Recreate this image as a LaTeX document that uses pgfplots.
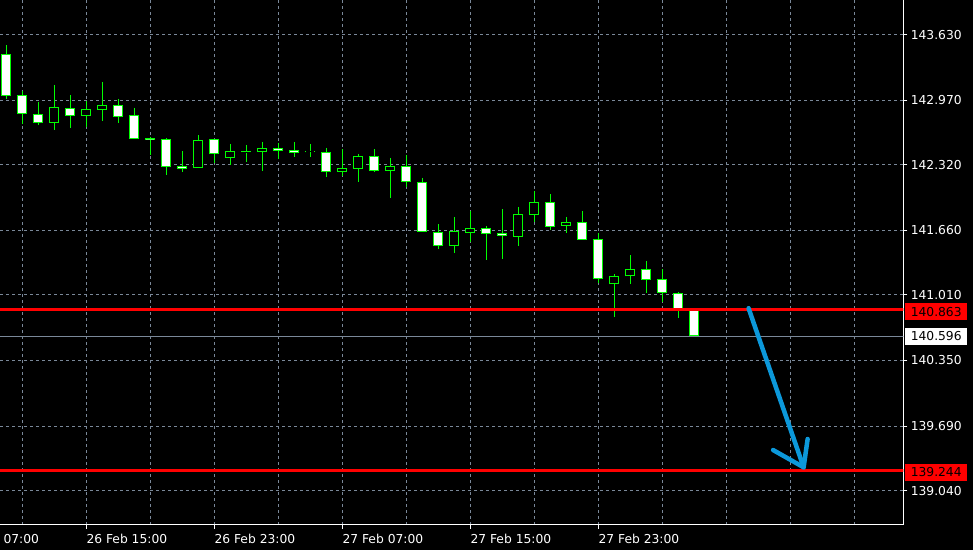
\documentclass[border=0pt]{standalone}
\usepackage{fontspec}
\setmainfont{DejaVu Sans}
\usepackage{pgfplots}
\pgfplotsset{compat=1.18}
\definecolor{gridc}{RGB}{122,136,153}
\definecolor{cg}{RGB}{0,255,0}
\definecolor{arrowblue}{RGB}{12,152,218}
% #1 index, #2 open, #3 high, #4 low, #5 close
\newcommand{\bear}[5]{%
  \addplot[cg, line width=1pt] coordinates {(#1,#3) (#1,#4)};
  \addplot[cg, line width=10.3pt] coordinates {(#1,#2) (#1,#5)};
  \addplot[white, line width=8.3pt, shorten <=1pt, shorten >=1pt] coordinates {(#1,#2) (#1,#5)};}
\newcommand{\bull}[5]{%
  \addplot[cg, line width=1pt] coordinates {(#1,#3) (#1,#4)};
  \addplot[cg, line width=10.3pt] coordinates {(#1,#2) (#1,#5)};
  \addplot[black, line width=8.3pt, shorten <=1pt, shorten >=1pt] coordinates {(#1,#2) (#1,#5)};}
\begin{document}
\begin{tikzpicture}
\useasboundingbox (0,0) rectangle (973pt,-550pt);
\fill[black] (0,0) rectangle (973pt,-550pt);
\begin{axis}[
  at={(0,0)}, anchor=north west,
  scale only axis, width=903.3pt, height=524.7pt,
  xmin=-0.394, xmax=56.06, ymin=138.697, ymax=143.979,
  axis x line*=bottom, axis y line*=right,
  axis line style={white, line width=1pt},
  xtick={5,13,21,29,37},
  xticklabels={26 Feb 15:00,26 Feb 23:00,27 Feb 07:00,27 Feb 15:00,27 Feb 23:00},
  minor xtick={1,9,17,25,33,41,45,49,53},
  ytick={139.040,139.690,140.350,141.010,141.660,142.320,142.970,143.630},
  yticklabels={139.040,139.690,140.350,141.010,141.660,142.320,142.970,143.630},
  grid=both,
  major grid style={gridc, dash pattern=on 3pt off 3pt, line width=1pt},
  minor grid style={gridc, dash pattern=on 3pt off 3pt, line width=1pt},
  tick align=outside, major tick length=4pt, minor tick length=0pt,
  tick style={white, line width=1pt},
  xticklabel style={anchor=north west, inner xsep=0pt, yshift=-2pt, font=\fontsize{12.3}{14}\selectfont, text=white},
  yticklabel style={anchor=west, font=\fontsize{12.3}{14}\selectfont, text=white},
  clip=true,
]
\bear{0}{143.433}{143.526}{142.983}{143.016}
\bear{1}{143.020}{143.063}{142.731}{142.829}
\bear{2}{142.829}{142.953}{142.721}{142.744}
\bull{3}{142.744}{143.124}{142.671}{142.899}
\bear{4}{142.889}{143.023}{142.694}{142.815}
\bull{5}{142.815}{142.963}{142.704}{142.879}
\bull{6}{142.875}{143.154}{142.764}{142.919}
\bear{7}{142.919}{142.983}{142.744}{142.805}
\bear{8}{142.819}{142.892}{142.580}{142.583}
\bear{9}{142.587}{142.603}{142.419}{142.567}
\bear{10}{142.577}{142.587}{142.221}{142.301}
\bear{11}{142.308}{142.459}{142.251}{142.275}
\bull{12}{142.285}{142.617}{142.283}{142.567}
\bear{13}{142.577}{142.580}{142.336}{142.426}
\bull{14}{142.392}{142.530}{142.320}{142.456}
\bull{15}{142.447}{142.520}{142.349}{142.456}
\bull{16}{142.452}{142.550}{142.258}{142.486}
\bear{17}{142.486}{142.540}{142.379}{142.462}
\bear{18}{142.466}{142.550}{142.399}{142.442}
\bull{19}{142.444}{142.530}{142.399}{142.456}
\bear{20}{142.446}{142.490}{142.198}{142.251}
\bull{21}{142.251}{142.476}{142.208}{142.285}
\bull{22}{142.281}{142.429}{142.147}{142.406}
\bear{23}{142.406}{142.479}{142.245}{142.258}
\bull{24}{142.261}{142.389}{141.986}{142.308}
\bear{25}{142.308}{142.419}{142.094}{142.142}
\bear{26}{142.144}{142.188}{141.640}{141.641}
\bear{27}{141.644}{141.724}{141.473}{141.506}
\bull{28}{141.506}{141.795}{141.433}{141.651}
\bull{29}{141.637}{141.852}{141.546}{141.681}
\bear{30}{141.681}{141.701}{141.365}{141.627}
\bear{31}{141.634}{141.875}{141.375}{141.601}
\bull{32}{141.597}{141.896}{141.506}{141.822}
\bull{33}{141.818}{142.057}{141.748}{141.943}
\bear{34}{141.943}{142.026}{141.664}{141.697}
\bull{35}{141.707}{141.795}{141.637}{141.742}
\bear{36}{141.742}{141.855}{141.567}{141.568}
\bear{37}{141.571}{141.631}{141.128}{141.168}
\bull{38}{141.118}{141.218}{140.791}{141.198}
\bull{39}{141.198}{141.412}{141.124}{141.269}
\bear{40}{141.269}{141.352}{141.033}{141.158}
\bear{41}{141.168}{141.269}{140.942}{141.027}
\bear{42}{141.027}{141.040}{140.781}{140.870}
\bear{43}{140.869}{140.872}{140.596}{140.596}
% current price line
\addplot[gridc, line width=1pt] coordinates {(-1,140.596) (57,140.596)};
% horizontal levels
\addplot[red, line width=3pt] coordinates {(-1,140.863) (57,140.863)};
\addplot[red, line width=3pt] coordinates {(-1,139.244) (57,139.244)};
% arrow
\addplot[arrowblue, line width=4.5pt, line cap=round, line join=round] coordinates {(46.39,140.876) (49.83,139.275)};
\addplot[arrowblue, line width=4.5pt, line cap=round, line join=round] coordinates {(47.92,139.449) (49.83,139.275) (50.08,139.560)};
\coordinate (r1) at (axis cs:56.06,140.863);
\coordinate (r2) at (axis cs:56.06,139.244);
\coordinate (w1) at (axis cs:56.06,140.596);
\coordinate (t0) at (axis cs:-0.394,138.697);
\end{axis}
\node[anchor=north west, inner xsep=0pt, text=white, font=\fontsize{12.3}{14}\selectfont] at ([xshift=3.3pt,yshift=-6pt]t0) {07:00};
\node[fill=red, text=black, anchor=west, minimum width=62pt, minimum height=17pt, inner sep=0pt, font=\fontsize{12.3}{14}\selectfont] at ([xshift=1.7pt,yshift=-2pt]r1) {140.863};
\node[fill=red, text=black, anchor=west, minimum width=62pt, minimum height=17pt, inner sep=0pt, font=\fontsize{12.3}{14}\selectfont] at ([xshift=1.7pt,yshift=-2pt]r2) {139.244};
\node[fill=white, text=black, anchor=west, minimum width=62pt, minimum height=17pt, inner sep=0pt, font=\fontsize{12.3}{14}\selectfont] at ([xshift=1.7pt]w1) {140.596};
\end{tikzpicture}
\end{document}
